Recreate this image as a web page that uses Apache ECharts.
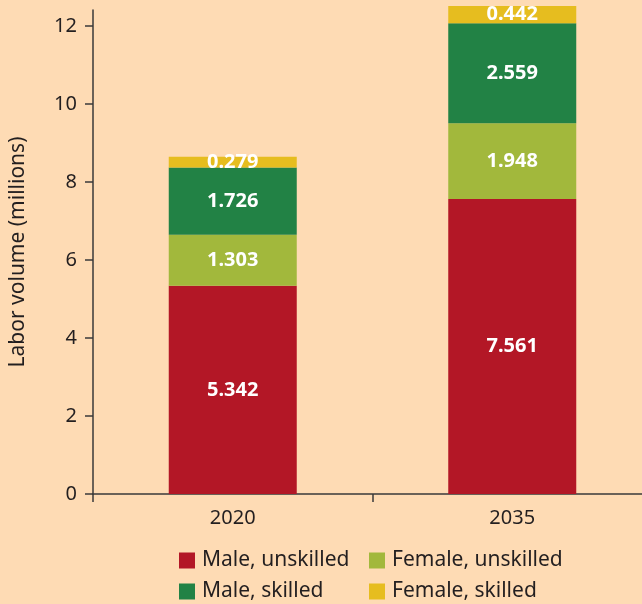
<!DOCTYPE html>
<html>
<head>
<meta charset="utf-8">
<script src="https://cdn.jsdelivr.net/npm/echarts@6/dist/echarts.min.js"></script>
<style>
  html, body { margin: 0; padding: 0; background: #fedbb4; overflow: hidden; }
  #chart { width: 652px; height: 604px; }
</style>
</head>
<body>
<div id="chart"></div>
<script>
// data
var years = ['2020', '2035']
var maleUnskilled = [5.342, 7.561]
var femaleUnskilled = [1.303, 1.948]
var maleSkilled = [1.726, 2.559]
var femaleSkilled = [0.279, 0.442]
var yTicks = [0, 2, 4, 6, 8, 10, 12]

var font = 'Noto Sans'
var axisColor = '#3a3a3a'
var textColor = '#231f20'

var seriesList = [
  { name: 'Male, unskilled', data: maleUnskilled, color: '#b31726' },
  { name: 'Female, unskilled', data: femaleUnskilled, color: '#a2b83c' },
  { name: 'Male, skilled', data: maleSkilled, color: '#228245' },
  { name: 'Female, skilled', data: femaleSkilled, color: '#e6bd1f' }
]

// the plot runs past the right edge of the picture, so the div is a bit wider than the window
var chart = echarts.init(document.getElementById('chart'))

function legendCol(left, names) {
  return {
    orient: 'vertical',
    left: left,
    top: 550,
    padding: 0,
    itemWidth: 16,
    itemHeight: 16,
    itemGap: 10,
    icon: 'rect',
    data: names,
    textStyle: { fontSize: 21, color: textColor, fontFamily: font, padding: [0, 0, 0, 2] }
  }
}

var option = {
  backgroundColor: '#fedbb4',
  textStyle: { fontFamily: font },
  animation: false,
  grid: {
    left: 92,
    right: 0,
    top: 10,
    bottom: 110
  },
  legend: [
    legendCol(179, ['Male, unskilled', 'Male, skilled']),
    legendCol(369, ['Female, unskilled', 'Female, skilled'])
  ],
  xAxis: {
    type: 'category',
    data: years,
    axisLine: { lineStyle: { color: axisColor, width: 1.5 } },
    axisTick: { show: true, length: 8, lineStyle: { color: axisColor, width: 1.5 } },
    axisLabel: { fontSize: 20, color: textColor, margin: 14 }
  },
  yAxis: {
    type: 'value',
    min: 0,
    max: 12.41,
    name: 'Labor volume (millions)',
    nameLocation: 'middle',
    nameGap: 64,
    nameTextStyle: { fontSize: 21, color: textColor },
    splitLine: { show: false },
    axisLine: { show: true, lineStyle: { color: axisColor, width: 1.5 } },
    axisTick: { show: true, length: 8, lineStyle: { color: axisColor, width: 1.5 }, customValues: yTicks },
    axisLabel: { fontSize: 20, color: textColor, margin: 16, customValues: yTicks }
  },
  series: seriesList.map(function (s) {
    return {
      name: s.name,
      type: 'bar',
      stack: 'total',
      barWidth: 128,
      clip: false,
      itemStyle: { color: s.color },
      label: {
        show: true,
        position: 'inside',
        color: '#ffffff',
        fontWeight: 'bold',
        fontSize: 20,
        formatter: function (p) { return p.value.toFixed(3) }
      },
      data: s.data
    }
  })
}

chart.setOption(option)
</script>
</body>
</html>
